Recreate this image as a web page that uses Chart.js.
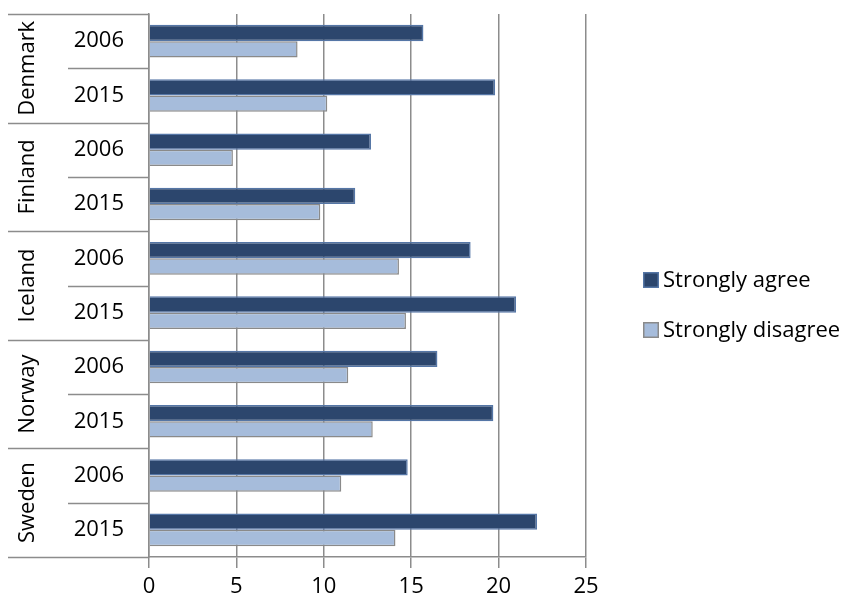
<!DOCTYPE html>
<html>
<head>
<meta charset="utf-8">
<script src="https://cdn.jsdelivr.net/npm/chart.js@4"></script>
<style>
  html, body { margin: 0; padding: 0; background: #fff; }
  #wrap { width: 853px; height: 602px; position: relative; }
</style>
</head>
<body>
<div id="wrap"><canvas id="c" width="853" height="602"></canvas></div>
<script>
// Survey shares by country and year (percent)
const countries = ['Denmark', 'Finland', 'Iceland', 'Norway', 'Sweden'];
const years = ['2006', '2015'];
const stronglyAgree    = [15.7, 19.8, 12.7, 11.8, 18.4, 21.0, 16.5, 19.7, 14.8, 22.2];
const stronglyDisagree = [8.5, 10.2, 4.8, 9.8, 14.3, 14.7, 11.4, 12.8, 11.0, 14.1];
const seriesNames = ['Strongly agree', 'Strongly disagree'];
const xTicks = [0, 5, 10, 15, 20, 25];

const FONT = '"Open Sans", "DejaVu Sans", sans-serif';
const FONT_SIZE = 22;
const GRID = '#8c8c8c';

// one category per country/year pair
const labels = [];
countries.forEach(c => years.forEach(y => labels.push(c + '|' + y)));

// Draws the outer country level of the category axis and its separators
const groupAxis = {
  id: 'groupAxis',
  afterDraw(chart) {
    const ctx = chart.ctx;
    const ys = chart.scales.y;
    const axisX = chart.chartArea.left;
    ctx.save();
    ctx.strokeStyle = GRID;
    ctx.lineWidth = 1.5;
    for (let i = 0; i <= labels.length; i++) {
      const y = Math.round(ys.getPixelForValue(i - 0.5)) + 0.5;
      const x0 = (i % years.length === 0) ? 8 : 68;
      ctx.beginPath();
      ctx.moveTo(x0, y);
      ctx.lineTo(axisX, y);
      ctx.stroke();
    }
    ctx.fillStyle = '#000';
    ctx.font = FONT_SIZE + 'px ' + FONT;
    ctx.textAlign = 'center';
    ctx.textBaseline = 'middle';
    countries.forEach((c, k) => {
      const a = ys.getPixelForValue(k * years.length);
      const b = ys.getPixelForValue(k * years.length + years.length - 1);
      ctx.save();
      ctx.translate(28, (a + b) / 2);
      ctx.rotate(-Math.PI / 2);
      ctx.fillText(c, 0, 0);
      ctx.restore();
    });
    ctx.restore();
  }
};

// Legend at the right, built from the dataset styles
const sideLegend = {
  id: 'sideLegend',
  afterDraw(chart) {
    const ctx = chart.ctx;
    const rows = [280, 330];
    ctx.save();
    ctx.font = FONT_SIZE + 'px ' + FONT;
    ctx.textBaseline = 'middle';
    ctx.textAlign = 'left';
    chart.data.datasets.forEach((ds, i) => {
      const cy = rows[i];
      ctx.fillStyle = ds.backgroundColor;
      ctx.fillRect(643, cy - 8, 16, 16);
      ctx.strokeStyle = ds.borderColor;
      ctx.lineWidth = 1.5;
      ctx.strokeRect(643.75, cy - 7.25, 14.5, 14.5);
      ctx.fillStyle = '#000';
      ctx.fillText(ds.label, 663, cy + 1);
    });
    ctx.restore();
  }
};

new Chart(document.getElementById('c'), {
  type: 'bar',
  data: {
    labels: labels,
    datasets: [
      {
        label: seriesNames[0],
        data: stronglyAgree,
        backgroundColor: '#2c466d',
        borderColor: '#5576a6',
        borderWidth: 1.5,
        borderSkipped: 'start'
      },
      {
        label: seriesNames[1],
        data: stronglyDisagree,
        backgroundColor: '#a6bcdb',
        borderColor: '#8a8a8a',
        borderWidth: 1.5,
        borderSkipped: 'start'
      }
    ]
  },
  options: {
    indexAxis: 'y',
    responsive: false,
    animation: false,
    devicePixelRatio: 1,
    categoryPercentage: 0.6,
    barPercentage: 1.0,
    layout: { padding: { top: 14, right: 267, left: 0, bottom: 0 } },
    plugins: {
      legend: { display: false },
      tooltip: { enabled: false }
    },
    scales: {
      x: {
        min: 0,
        max: 25,
        afterBuildTicks(scale) { scale.ticks = xTicks.map(v => ({ value: v })); },
        afterFit(scale) {
          scale.height = 45;
          scale.paddingLeft = 0;
          scale.paddingRight = 0;
        },
        grid: { color: GRID, lineWidth: 1.5, tickLength: 11, drawTicks: true },
        border: { display: true, color: GRID, width: 1.5 },
        ticks: {
          color: '#000',
          padding: 6,
          font: { family: FONT, size: FONT_SIZE }
        }
      },
      y: {
        type: 'category',
        offset: true,
        afterFit(scale) {
          scale.width = 149;
          scale.paddingTop = 0;
          scale.paddingBottom = 0;
        },
        grid: { display: false, drawTicks: false },
        border: { display: true, color: GRID, width: 1.5 },
        ticks: {
          color: '#000',
          padding: 25,
          autoSkip: false,
          font: { family: FONT, size: FONT_SIZE },
          callback(value) { return this.getLabelForValue(value).split('|')[1]; }
        }
      }
    }
  },
  plugins: [groupAxis, sideLegend]
});
</script>
</body>
</html>
